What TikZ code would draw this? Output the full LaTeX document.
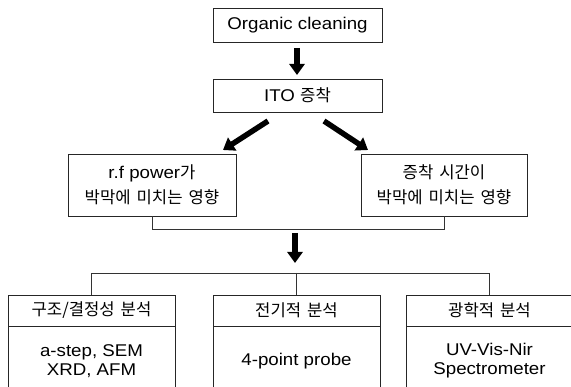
\documentclass[tikz,border=0pt]{standalone}
\usepackage{fontspec}
\setmainfont[FakeStretch=1.1]{Liberation Sans}
\newfontfamily\cjk[WordSpace=1.6,Scale=0.98]{Noto Sans CJK KR}
\newcommand\kr[1]{{\cjk #1}}
\usetikzlibrary{arrows.meta}
\begin{document}
\begin{tikzpicture}[x=1pt,y=-1pt,
  box/.style={draw=black!85,line width=0.8pt,rectangle,inner sep=0pt,align=center,font=\fontsize{17}{19}\selectfont},
  bigarrow/.style={line width=5.5pt,-{Triangle[width=15pt,length=11pt]}},
  link/.style={draw=black!80,line width=0.7pt}]
\useasboundingbox (0,0) rectangle (571,387);
\fill[white] (0,0) rectangle (571,387);
% top boxes
\node[box,minimum width=169pt,minimum height=34pt] (org) at (297.5,25) {Organic cleaning};
\node[box,minimum width=169pt,minimum height=33pt] (ito) at (297.5,95.5) {ITO \kr{증착}};
% middle boxes
\node[box,minimum width=168pt,minimum height=62pt,font=\fontsize{17}{25}\selectfont] (rf) at (152,185) {r.f power\kr{가}\\\kr{박막에 미치는 영향}};
\node[box,minimum width=166pt,minimum height=62pt,font=\fontsize{17}{25}\selectfont] (dep) at (444,185) {\kr{증착 시간이}\\\kr{박막에 미치는 영향}};
% bottom boxes
\node[box,minimum width=167pt,minimum height=31pt] (ha) at (91.5,310.5) {\kr{구조/결정성 분석}};
\node[box,minimum width=167pt,minimum height=70pt] (ba) at (91.5,361) {a-step, SEM\\XRD, AFM};
\node[box,minimum width=167pt,minimum height=31pt] (hb) at (296.5,310.5) {\kr{전기적 분석}};
\node[box,minimum width=167pt,minimum height=70pt] (bb) at (296.5,361) {4-point probe};
\node[box,minimum width=167pt,minimum height=31pt] (hc) at (489.5,310.5) {\kr{광학적 분석}};
\node[box,minimum width=167pt,minimum height=70pt] (bc) at (489.5,361) {UV-Vis-Nir\\Spectrometer};
% arrows
\coordinate (a1s) at (297,48);
\coordinate (a1e) at (297,75);
\draw[bigarrow] (a1s) -- (a1e);
\coordinate (l1s) at (268,121);
\coordinate (l1e) at (223,150);
\draw[bigarrow] (l1s) -- (l1e);
\coordinate (r1s) at (324,121);
\coordinate (r1e) at (368,150);
\draw[bigarrow] (r1s) -- (r1e);
% bracket
\coordinate (bl) at (152,229);
\coordinate (br) at (444,229);
\draw[link] (rf.south) -- (bl) -- (br) -- (dep.south);
\coordinate (a2s) at (295,233);
\coordinate (a2e) at (295,263);
\draw[bigarrow] (a2s) -- (a2e);
% distribution line
\coordinate (dl) at (91.5,273);
\coordinate (dm) at (296.5,273);
\coordinate (dr) at (489.5,273);
\draw[link] (ha.north) -- (dl) -- (dr) -- (hc.north);
\draw[link] (dm) -- (hb.north);
\end{tikzpicture}
\end{document}
